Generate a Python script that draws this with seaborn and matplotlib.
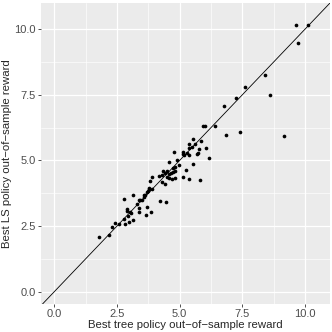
import numpy as np
import pandas as pd
import matplotlib
matplotlib.use("Agg")
import matplotlib.pyplot as plt
import seaborn as sns

# values
tree_reward = [9.64, 10.11, 9.73, 8.40, 7.59, 8.60, 7.26, 6.78, 7.41, 6.84, 9.17,
               5.92, 6.02, 6.41, 5.36, 5.52, 5.63, 5.84, 5.36, 5.50, 6.04, 5.78,
               5.15, 4.77, 5.12, 5.17, 5.28, 5.68, 5.73, 5.36, 6.16, 4.88, 4.59,
               4.99, 5.52, 4.72, 4.83, 5.25, 4.32, 4.42, 4.50, 4.56, 4.67, 4.75,
               4.83, 4.16, 4.30, 4.48, 4.59, 4.69, 4.80, 5.15, 5.36, 5.81, 3.82,
               3.91, 4.30, 4.43, 3.79, 3.77, 3.91, 3.71, 3.74, 3.57, 3.63, 3.58,
               3.50, 3.42, 3.39, 3.15, 2.78, 3.31, 3.37, 3.37, 3.69, 3.66, 3.85,
               4.22, 4.46, 2.91, 2.91, 3.02, 3.07, 3.13, 2.97, 2.78, 2.81, 2.57,
               2.43, 2.29, 2.19, 1.80, 2.93]
ls_reward = [10.17, 10.15, 9.48, 8.24, 7.78, 7.51, 7.37, 7.09, 6.09, 5.98, 5.94,
             6.31, 6.30, 6.31, 5.61, 5.82, 5.63, 5.75, 5.48, 5.51, 5.47, 5.42,
             5.33, 5.31, 5.26, 5.20, 5.29, 5.26, 5.29, 5.19, 5.10, 5.03, 4.94,
             4.83, 4.85, 4.73, 4.75, 4.65, 4.60, 4.52, 4.59, 4.47, 4.54, 4.56,
             4.59, 4.42, 4.44, 4.37, 4.34, 4.29, 4.34, 4.36, 4.29, 4.24, 4.21,
             4.36, 4.19, 4.11, 3.96, 3.91, 3.91, 3.78, 3.83, 3.67, 3.69, 3.60,
             3.50, 3.48, 3.51, 3.68, 3.55, 3.33, 3.17, 3.02, 3.22, 2.91, 3.02,
             3.45, 3.43, 3.14, 3.07, 3.02, 3.00, 2.74, 2.66, 2.76, 2.56, 2.58,
             2.63, 2.48, 2.15, 2.10, 2.89]
ticks = [0.0, 2.5, 5.0, 7.5, 10.0]
tick_labels = ["0.0", "2.5", "5.0", "7.5", "10.0"]

df = pd.DataFrame({"tree": tree_reward, "ls": ls_reward})

sns.set_theme(style="darkgrid", rc={
    "axes.facecolor": "#EBEBEB",
    "grid.color": "white",
    "axes.edgecolor": "none",
    "xtick.bottom": True,
    "ytick.left": True,
    "xtick.color": "#333333",
    "ytick.color": "#333333",
})
plt.rcParams["font.family"] = ["Liberation Sans", "DejaVu Sans"]

fig = plt.figure(figsize=(3.32, 3.32), dpi=100)
ax = fig.add_axes([0.1235, 0.0843, 0.8705, 0.9067])

sns.scatterplot(data=df, x="tree", y="ls", color="black", s=7, linewidth=0, ax=ax, zorder=3)
ax.axline((0, 0), slope=1, color="black", linewidth=0.6, zorder=2)

ax.set_xlim(-0.53, 11.0)
ax.set_ylim(-0.47, 11.0)
ax.set_xticks(ticks)
ax.set_xticklabels(tick_labels)
ax.set_yticks(ticks)
ax.set_yticklabels(tick_labels)
ax.set_xticks([1.25, 3.75, 6.25, 8.75], minor=True)
ax.set_yticks([1.25, 3.75, 6.25, 8.75], minor=True)
ax.grid(which="major", color="white", linewidth=0.9)
ax.grid(which="minor", color="white", linewidth=0.45)
ax.tick_params(which="major", length=2.2, width=0.6, color="#333333",
               labelsize=8, labelcolor="#4D4D4D", pad=1.5)
ax.tick_params(which="minor", length=0)

ax.set_xlabel("Best tree policy out\u2212of\u2212sample reward", fontsize=8.2, labelpad=0.8)
ax.set_ylabel("Best LS policy out\u2212of\u2212sample reward", fontsize=8.2, labelpad=1.8)

fig.savefig("out.png", dpi=100)
